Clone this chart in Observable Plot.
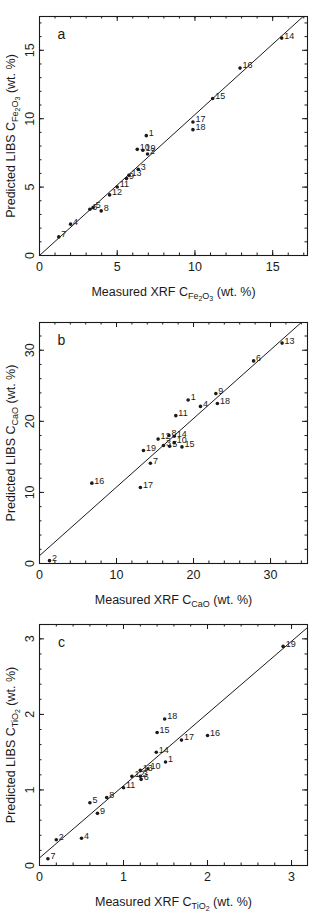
<!DOCTYPE html>
<html>
<head>
<meta charset="utf-8">
<script src="https://cdn.jsdelivr.net/npm/d3@7"></script>
<script src="https://cdn.jsdelivr.net/npm/@observablehq/plot@0.6"></script>
<style>
  body { margin: 0; background: #fff; }
  #charts { width: 312px; }
  #charts svg { display: block; }
</style>
</head>
<body>
<div id="charts"></div>
<script>
// Sample numbers 1..19, shared by the three oxides
const sampleIds = ["1","2","3","4","5","6","7","8","9","10","11","12","13","14","15","16","17","18","19"];

// Fe2O3 (wt. %): XRF measured vs LIBS predicted
const feXrf  = [6.87, 6.95, 6.35, 2.00, 3.45, 3.24, 1.24, 3.97, 5.60, 6.29, 5.00, 4.51, 5.75, 15.58, 11.14, 12.90, 9.87, 9.87, 6.65];
const feLibs = [8.76, 7.42, 6.30, 2.29, 3.50, 3.38, 1.36, 3.26, 5.62, 7.76, 5.01, 4.43, 5.86, 15.89, 11.48, 13.70, 9.76, 9.20, 7.69];
const feFit  = {intercept: 0.0, slope: 1.03};

// CaO (wt. %)
const caXrf  = [19.3, 1.3, 16.1, 20.9, 16.9, 27.8, 14.4, 16.8, 22.9, 17.5, 17.7, 15.4, 31.5, 17.5, 18.5, 6.8, 13.1, 23.1, 13.5];
const caLibs = [23.0, 0.4, 16.6, 22.1, 16.5, 28.5, 14.1, 18.0, 23.9, 17.0, 20.8, 17.5, 31.0, 17.9, 16.4, 11.3, 10.7, 22.5, 15.9];
const caFit  = {intercept: 1.1, slope: 0.965};

// TiO2 (wt. %)
const tiXrf  = [1.50, 0.20, 1.20, 0.50, 0.60, 1.21, 0.10, 0.80, 0.69, 1.29, 1.00, 1.10, 1.20, 1.39, 1.40, 2.00, 1.69, 1.49, 2.90];
const tiLibs = [1.37, 0.34, 1.18, 0.36, 0.83, 1.14, 0.09, 0.90, 0.69, 1.28, 1.03, 1.18, 1.26, 1.50, 1.76, 1.72, 1.66, 1.94, 2.90];
const tiFit  = {intercept: 0.10, slope: 0.956};

// Tick labels
const feTicks = [0, 5, 10, 15];
const caTicks = [0, 10, 20, 30];
const tiTicks = [0, 1, 2, 3];

// Oxide formulas as [text, subscript level] pieces
const feFormula = [["Fe", 1], ["2", 2], ["O", 1], ["3", 2]];
const caFormula = [["CaO", 1]];
const tiFormula = [["TiO", 1], ["2", 2]];

const ink = "#1a1a1a";
const font = "Liberation Sans, Arial, Helvetica, sans-serif";

// Builds "<prefix> C<sub formula> (wt. %)" with nested subscripts as tspans
function richLabel(prefix, formula) {
  const parts = [[prefix + " C", 0], ...formula, [" (wt. %)", 0]];
  const drop = [0, 3.2, 5.8];
  const size = [12.5, 9, 7];
  return (index, scales, values, dims, ctx, next) => {
    const g = next(index, scales, values, dims, ctx);
    d3.select(g).selectAll("text").each(function () {
      const t = d3.select(this);
      t.text(null);
      let level = 0;
      parts.forEach(([str, lv], i) => {
        const s = t.append("tspan").attr("font-size", size[lv]).text(str);
        if (i > 0 && lv !== level) s.attr("dy", drop[lv] - drop[level]);
        level = lv;
      });
    });
    return g;
  };
}

function panel({letter, ids, xs, ys, fit, xMax, yMax, major, minorStep, formula,
                height, marginTop, marginBottom}) {
  const width = 312, marginLeft = 39, marginRight = 5;
  const W = width - marginLeft - marginRight;
  const H = height - marginTop - marginBottom;
  const rows = ids.map((id, i) => ({id, x: xs[i], y: ys[i]}));
  const xMinor = d3.range(0, xMax + 1e-9, minorStep);
  const yMinor = d3.range(0, yMax + 1e-9, minorStep);
  const fitLine = [0, xMax].map(x => ({x, y: fit.intercept + fit.slope * x}));
  const bigTick = 5, smallTick = 2.5;
  const tickStyle = {stroke: ink, strokeWidth: 1};

  return Plot.plot({
    width, height, marginLeft, marginRight, marginTop, marginBottom,
    style: {fontFamily: font, background: "#fff", color: ink},
    x: {domain: [0, xMax], axis: null},
    y: {domain: [0, yMax], axis: null},
    marks: [
      // inward ticks on all four sides
      Plot.ruleX(xMinor, {x: d => d, insetTop: H - smallTick, ...tickStyle}),
      Plot.ruleX(xMinor, {x: d => d, insetBottom: H - smallTick, ...tickStyle}),
      Plot.ruleX(major, {x: d => d, insetTop: H - bigTick, ...tickStyle}),
      Plot.ruleX(major, {x: d => d, insetBottom: H - bigTick, ...tickStyle}),
      Plot.ruleY(yMinor, {y: d => d, insetRight: W - smallTick, ...tickStyle}),
      Plot.ruleY(yMinor, {y: d => d, insetLeft: W - smallTick, ...tickStyle}),
      Plot.ruleY(major, {y: d => d, insetRight: W - bigTick, ...tickStyle}),
      Plot.ruleY(major, {y: d => d, insetLeft: W - bigTick, ...tickStyle}),
      Plot.frame({stroke: ink, strokeWidth: 1.1}),
      // tick labels
      Plot.text(major, {x: d => d, text: d => String(d), frameAnchor: "bottom",
        dy: 11.5, lineAnchor: "middle", fontSize: 12.5, fill: ink}),
      Plot.text(major, {y: d => d, text: d => String(d), frameAnchor: "left",
        dx: -10, rotate: -90, textAnchor: "middle", lineAnchor: "middle", fontSize: 12.5, fill: ink}),
      // fitted line
      Plot.line(fitLine, {x: "x", y: "y", stroke: ink, strokeWidth: 1, clip: "frame"}),
      // samples
      Plot.dot(rows, {x: "x", y: "y", r: 1.8, fill: ink, stroke: null}),
      Plot.text(rows, {x: "x", y: "y", text: "id", dx: 2.5, dy: -2.5, textAnchor: "start",
        lineAnchor: "middle", fontSize: 9, fill: ink}),
      // panel letter
      Plot.text([letter], {frameAnchor: "top-left", dx: 22, dy: 18, text: d => d,
        textAnchor: "middle", lineAnchor: "middle", fontSize: 14, fill: ink}),
      // axis titles
      Plot.text(["x"], {frameAnchor: "bottom", dy: 36, text: d => d, textAnchor: "middle",
        lineAnchor: "middle", fontSize: 12.5, fill: ink, render: richLabel("Measured XRF", formula)}),
      Plot.text(["y"], {frameAnchor: "left", dx: -29, rotate: -90, text: d => d, textAnchor: "middle",
        lineAnchor: "middle", fontSize: 12.5, fill: ink, render: richLabel("Predicted LIBS", formula)})
    ]
  });
}

const host = document.getElementById("charts");
host.append(panel({letter: "a", ids: sampleIds, xs: feXrf, ys: feLibs, fit: feFit,
  xMax: 17.24, yMax: 17.47, major: feTicks, minorStep: 1, formula: feFormula,
  height: 304, marginTop: 16, marginBottom: 49}));
host.append(panel({letter: "b", ids: sampleIds, xs: caXrf, ys: caLibs, fit: caFit,
  xMax: 34.8, yMax: 33.9, major: caTicks, minorStep: 2, formula: caFormula,
  height: 304, marginTop: 18, marginBottom: 45}));
host.append(panel({letter: "c", ids: sampleIds, xs: tiXrf, ys: tiLibs, fit: tiFit,
  xMax: 3.19, yMax: 3.19, major: tiTicks, minorStep: 0.2, formula: tiFormula,
  height: 305, marginTop: 16, marginBottom: 48}));
</script>
</body>
</html>
